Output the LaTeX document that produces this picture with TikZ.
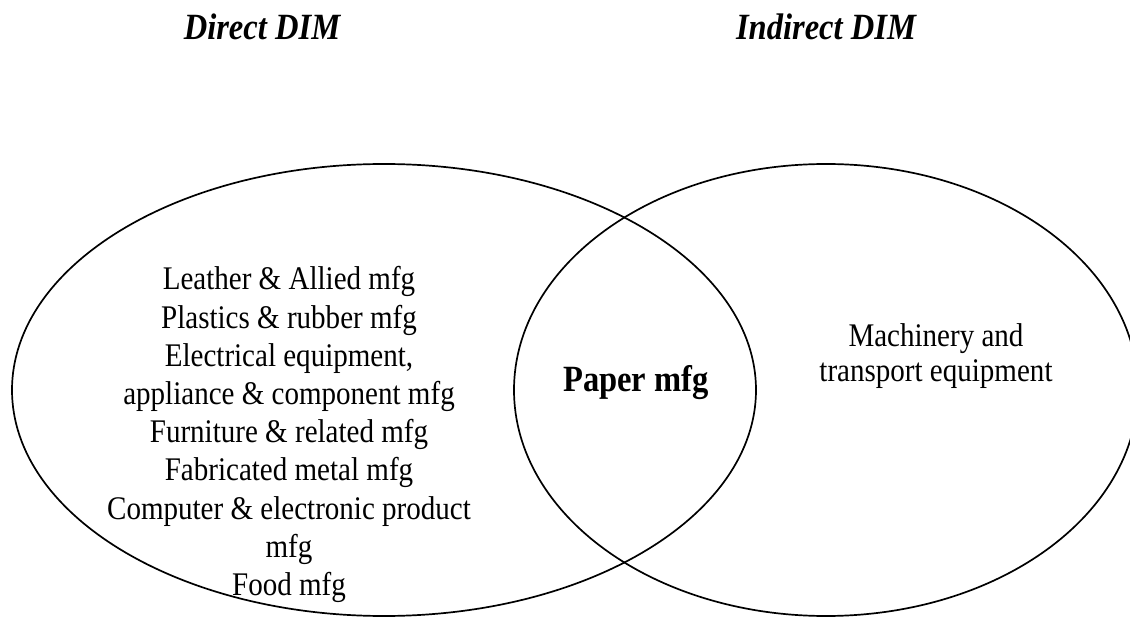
\documentclass[tikz,border=0pt]{standalone}
\usepackage{fontspec}
\setmainfont{Liberation Serif}
\usetikzlibrary{shapes.geometric}
\newcommand{\hsqz}[1]{\scalebox{0.88}[1]{#1}}
\newcommand{\stacklines}[1]{\begin{tabular}[t]{@{}c@{}}#1\end{tabular}}
\begin{document}
\begin{tikzpicture}[x=1pt,y=-1pt,
  setshape/.style={draw, ellipse, line width=1.7pt, inner sep=0pt},
  plaintext/.style={inner sep=0pt, anchor=base}]
\clip (0,0) rectangle (1130,617);
\node[setshape, minimum width=744pt, minimum height=452pt] (direct) at (384,390) {};
\node[setshape, minimum width=624pt, minimum height=452pt] (indirect) at (826,390) {};
\node[plaintext] (tdirect) at (262,40) {\hsqz{\fontsize{37}{42}\selectfont\bfseries\itshape Direct DIM}};
\node[plaintext] (tindirect) at (826,40) {\hsqz{\fontsize{37}{42}\selectfont\bfseries\itshape Indirect DIM}};
\node[plaintext] (list) at (289,290) {\hsqz{\fontsize{33}{38.2}\selectfont\stacklines{Leather \& Allied mfg\\Plastics \& rubber mfg\\Electrical equipment,\\appliance \& component mfg\\Furniture \& related mfg\\Fabricated metal mfg\\Computer \& electronic product\\mfg\\Food mfg}}};
\node[plaintext] (paper) at (636,392) {\hsqz{\fontsize{37}{42}\selectfont\bfseries Paper mfg}};
\node[plaintext] (machinery) at (936,347) {\hsqz{\fontsize{33}{35}\selectfont\stacklines{Machinery and\\transport equipment}}};
\end{tikzpicture}
\end{document}
